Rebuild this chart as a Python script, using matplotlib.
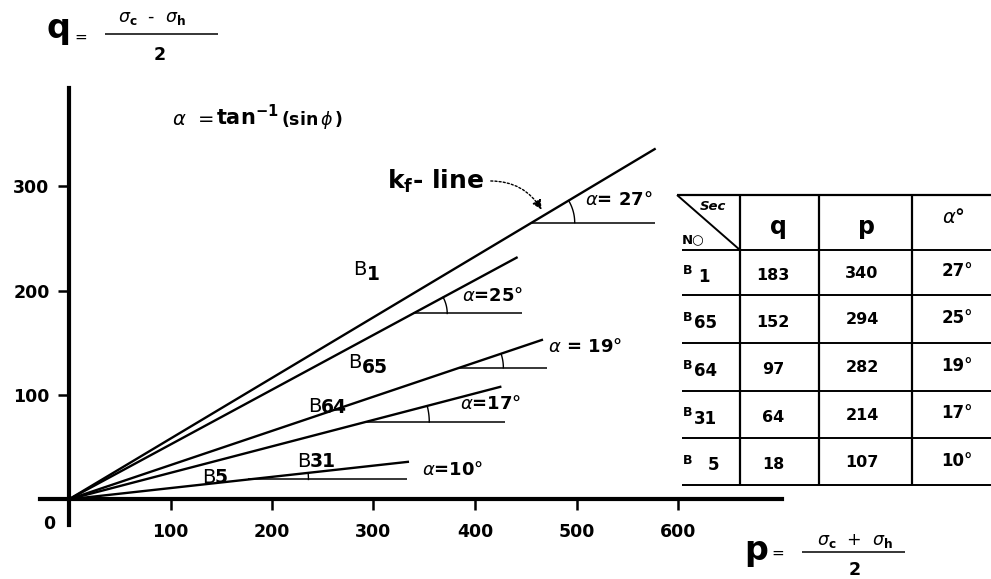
import numpy as np
import matplotlib
matplotlib.use("Agg")
import matplotlib.pyplot as plt
from matplotlib.lines import Line2D

# ---- data -------------------------------------------------------------
sections = ["1", "65", "64", "31", "5"]
q_values = [183, 152, 97, 64, 18]
p_values = [340, 294, 282, 214, 107]
alpha_values = [27, 25, 19, 17, 10]

# failure envelope lines drawn from the origin: end point (p, q)
line_p_end = [578, 442, 467, 426, 335]
line_q_end = [336, 232, 153, 108, 36]
# horizontal reference lines used to mark the angle alpha
ref_q = [265, 178, 126, 74, 19]
ref_p_end = [577, 446, 471, 430, 333]

x_ticks = [100, 200, 300, 400, 500, 600]
y_ticks = [100, 200, 300]

# ---- figure / scales --------------------------------------------------
W, H = 991, 579
SX, SY = 1.015, 1.044          # pixels per unit on p and q
X0, Y0 = 69, 499.3             # pixel position of the origin

plt.rcParams["font.family"] = ["DejaVu Sans"]
plt.rcParams["mathtext.fontset"] = "dejavusans"

fig = plt.figure(figsize=(W / 100, H / 100), dpi=100)
ax = fig.add_axes([0, 0, 1, 1])
ax.set_xlim(-X0 / SX, (W - X0) / SX)
ax.set_ylim((Y0 - H) / SY, Y0 / SY)

for side in ("top", "right"):
    ax.spines[side].set_visible(False)
ax.spines["left"].set_position(("data", 0))
ax.spines["bottom"].set_position(("data", 0))
ax.spines["left"].set_bounds(-24.6, 394)
ax.spines["bottom"].set_bounds(-28.6, 702.5)
for side in ("left", "bottom"):
    ax.spines[side].set_linewidth(3.0)

ax.set_xticks(x_ticks)
ax.set_yticks(y_ticks)
ax.tick_params(axis="x", direction="out", length=8, width=1.8, pad=9, labelsize=12.5)
ax.tick_params(axis="y", direction="out", length=8, width=1.8, pad=6, labelsize=12.5)
for lbl in ax.get_xticklabels() + ax.get_yticklabels():
    lbl.set_fontweight("bold")
ax.text(-19.7, -23.7, "0", ha="center", va="center", fontsize=12.5, fontweight="bold")


def put(xp, yp, s, **kw):
    """Place text at a pixel position (origin top-left)."""
    return fig.text(xp / W, 1 - yp / H, s, **kw)


def hline(x1, y1, x2, y2, lw=1.4):
    fig.add_artist(Line2D([x1 / W, x2 / W], [1 - y1 / H, 1 - y2 / H],
                          transform=fig.transFigure, color="black", lw=lw,
                          solid_capstyle="butt"))


# ---- envelope lines, reference lines and angle arcs --------------------
arc_radius_px = [43, 34, 44, 64, 60]
for pe, qe, rq, re, rad in zip(line_p_end, line_q_end, ref_q, ref_p_end, arc_radius_px):
    ax.plot([0, pe], [0, qe], color="black", lw=1.7, solid_capstyle="butt")
    xi = rq * pe / qe
    ax.plot([xi, re], [rq, rq], color="black", lw=1.1, solid_capstyle="butt")
    theta = np.arctan2(qe * SY, pe * SX)
    t = np.linspace(0, theta, 40)
    ax.plot(xi + rad * np.cos(t) / SX, rq + rad * np.sin(t) / SY, color="black", lw=1.0)

# angle labels
angle_label_pos = [(585, 200, "$\\alpha$= 27°"),
                   (462, 296, "$\\alpha$=25°"),
                   (548, 347, "$\\alpha$ = 19°"),
                   (460, 404, "$\\alpha$=17°"),
                   (422, 470, "$\\alpha$=10°")]
for xp, yp, s in angle_label_pos:
    put(xp, yp, s, ha="left", va="center", fontsize=13, fontweight="bold")


# section labels on the plot: "B" followed by lowered bold digits
def blabel(xp, yb, digits, dx, dy, size=14):
    put(xp, yb, "B", ha="left", va="baseline", fontsize=size)
    put(xp + dx, yb + dy, digits, ha="left", va="baseline", fontsize=size - 0.5,
        fontweight="bold")


blabel(353, 275, "1", 14, 5)
blabel(348, 368, "65", 14, 5)
blabel(308, 412, "64", 13, 1)
blabel(297, 467, "31", 13, 0)
blabel(202, 483, "5", 13, 0)

# ---- axis titles --------------------------------------------------------
put(47, 38, "q", ha="left", va="baseline", fontsize=24, fontweight="bold")
put(81, 37, "=", ha="center", va="center", fontsize=11)
put(118, 22, "$\\sigma_{\\mathbf{c}}$  -  $\\sigma_{\\mathbf{h}}$", ha="left",
    va="baseline", fontsize=12.5)
hline(105, 34, 218, 34, lw=1.1)
put(160, 60, "2", ha="center", va="baseline", fontsize=12.5, fontweight="bold")

put(744, 560, "p", ha="left", va="baseline", fontsize=24, fontweight="bold")
put(778, 553, "=", ha="center", va="center", fontsize=11)
put(817, 545, "$\\sigma_{\\mathbf{c}}$  +  $\\sigma_{\\mathbf{h}}$", ha="left",
    va="baseline", fontsize=12.5)
hline(802, 552, 905, 552, lw=1.1)
put(855, 575, "2", ha="center", va="baseline", fontsize=12.5, fontweight="bold")

# alpha formula
put(172, 125, "$\\alpha$  =", ha="left", va="baseline", fontsize=14)
put(216, 125, "tan$^{\\mathbf{-1}}$", ha="left", va="baseline", fontsize=15,
    fontweight="bold")
put(281, 125, "(sin$\\,\\phi\\,$)", ha="left", va="baseline", fontsize=12.5,
    fontweight="bold")

# k_f-line label with dotted arrow
put(387, 189, "k$_{\\mathbf{f}}$- line", ha="left", va="baseline", fontsize=18,
    fontweight="bold")
ax.annotate("", xy=(543 / W, 1 - 212 / H), xytext=(488 / W, 1 - 181 / H),
            xycoords="figure fraction", textcoords="figure fraction",
            arrowprops=dict(arrowstyle="-|>", color="black", lw=1.0,
                            linestyle=(0, (1.5, 1.5)), mutation_scale=14,
                            connectionstyle="arc3,rad=-0.3"))

# ---- table --------------------------------------------------------------
row_edges = [250, 295, 343, 391, 438, 485]
col_lines = [740, 819, 912]
hline(677, 195, W, 195, lw=1.6)
for y in row_edges:
    hline(682, y, W, y, lw=1.4)
for x in col_lines:
    hline(x, 195, x, 485, lw=1.6)
hline(677, 195, 740, 250, lw=1.4)

put(700, 207, "Sec", ha="left", va="center", fontsize=9.5, fontweight="bold",
    style="italic")
put(682, 240, "N\u25cb", ha="left", va="center", fontsize=9.5, fontweight="bold")
put(778, 227, "q", ha="center", va="center", fontsize=17, fontweight="bold")
put(866, 227, "p", ha="center", va="center", fontsize=17, fontweight="bold")
put(953, 218, "$\\alpha$°", ha="center", va="center", fontsize=14,
    fontweight="bold")

for i, (sec, q, p, a) in enumerate(zip(sections, q_values, p_values, alpha_values)):
    top, bot = row_edges[i], row_edges[i + 1]
    cy = (top + bot) / 2
    put(683, cy + 2, "B", ha="left", va="baseline", fontsize=9, fontweight="bold")
    dx = 25 if len(sec) == 1 else 11
    put(683 + dx - (10 if sec == "1" else 0), cy + 9, sec, ha="left", va="baseline",
        fontsize=12, fontweight="bold")
    put(773, cy + 3, str(q), ha="center", va="center", fontsize=11.5, fontweight="bold")
    put(862, cy + 1, str(p), ha="center", va="center", fontsize=11.5, fontweight="bold")
    put(957, cy - 1, f"{a}°", ha="center", va="center", fontsize=12,
        fontweight="bold")

fig.savefig("out.png", dpi=100)
